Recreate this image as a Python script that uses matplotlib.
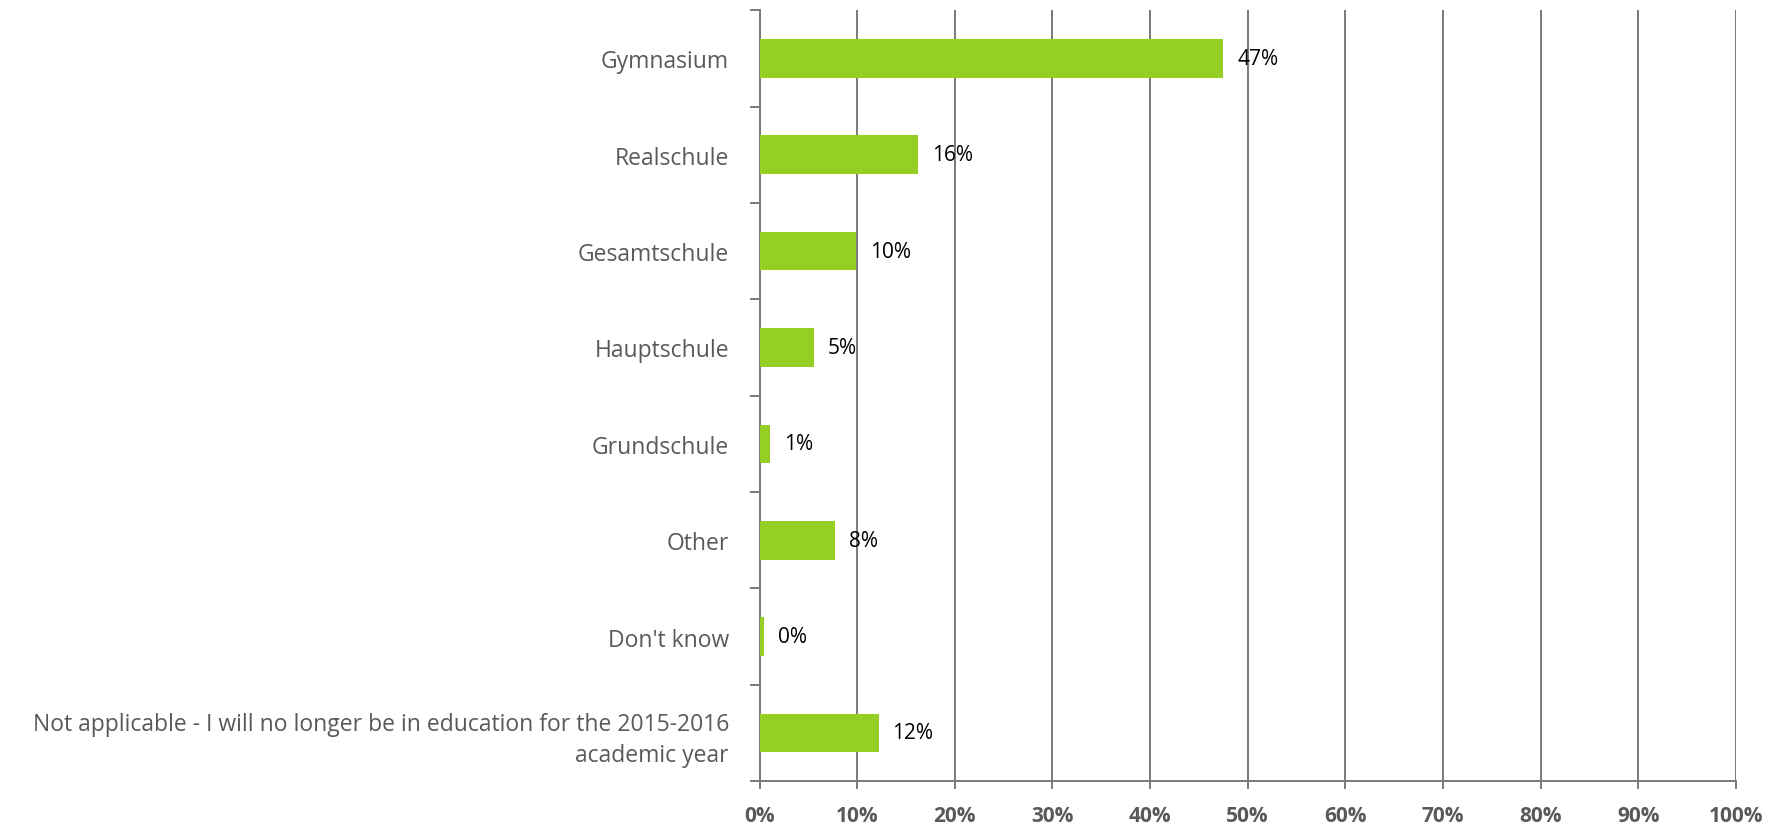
import numpy as np
import matplotlib.pyplot as plt
from matplotlib.ticker import MultipleLocator, FuncFormatter

# Дані
categories = ['Gymnasium', 'Realschule', 'Gesamtschule', 'Hauptschule', 'Grundschule',
              'Other', "Don't know",
              'Not applicable - I will no longer be in education for the 2015-2016\nacademic year']
values = [47.5, 16.2, 9.9, 5.6, 1.1, 7.7, 0.45, 12.2]
value_labels = ['47%', '16%', '10%', '5%', '1%', '8%', '0%', '12%']

plt.rcParams['font.family'] = ['Open Sans', 'DejaVu Sans']

fig = plt.figure(figsize=(17.85, 8.29), dpi=100)
ax = fig.add_axes([0.4255, 0.0565, 0.547, 0.930])

y = np.arange(len(categories))
ax.barh(y, values, height=0.4, color='#95CF24', zorder=3)

# Підписи значень
for yi, v, lab in zip(y, values, value_labels):
    ax.annotate(lab, (v, yi), xytext=(10, 0), textcoords='offset points',
                va='center', ha='left', fontsize=15, color='black', zorder=4)

ax.set_xlim(0, 100)
ax.set_ylim(len(categories) - 0.5, -0.5)

# Осі та сітка
ax.xaxis.set_major_locator(MultipleLocator(10))
ax.xaxis.set_major_formatter(FuncFormatter(lambda v, p: f'{v:.0f}%'))
ax.grid(axis='x', color='#7a7a7a', linewidth=1.4, zorder=0)
for s in ['top', 'right']:
    ax.spines[s].set_visible(False)
for s in ['left', 'bottom']:
    ax.spines[s].set_color('#7a7a7a')
    ax.spines[s].set_linewidth(1.4)

ax.tick_params(axis='x', length=6, width=1.4, color='#7a7a7a', pad=11,
               labelsize=15, labelcolor='#595959')
for t in ax.get_xticklabels():
    t.set_fontweight('bold')

ax.set_yticks(y)
ax.set_yticklabels(categories, fontsize=16.5, color='#595959', linespacing=1.4,
                   multialignment='right')
ax.tick_params(axis='y', which='major', length=0, pad=22)
ax.set_yticks(np.arange(-0.5, len(categories), 1), minor=True)
ax.tick_params(axis='y', which='minor', length=7, width=1.4, color='#7a7a7a')

fig.savefig('out.png', dpi=100)
